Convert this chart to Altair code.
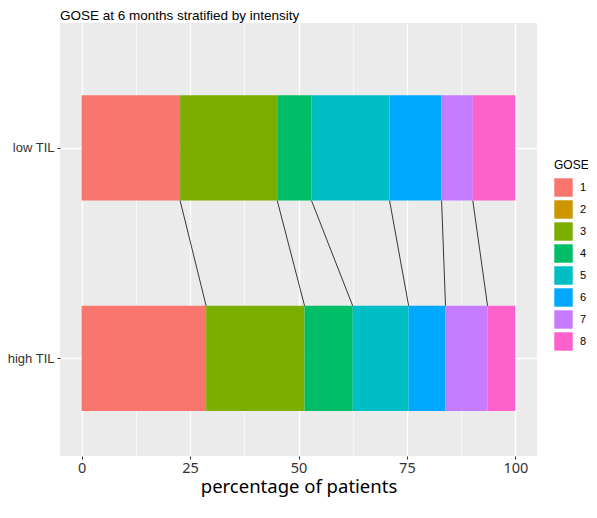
import json
import altair as alt
import pandas as pd

# ---- data ----
categories = ["low TIL", "high TIL"]
gose_levels = ["1", "2", "3", "4", "5", "6", "7", "8"]
low_til_pct = [22.7, 0.0, 22.4, 7.9, 18.0, 12.0, 7.2, 9.8]
high_til_pct = [28.7, 0.0, 22.7, 11.1, 12.9, 8.5, 9.7, 6.4]
gose_colors = ["#F8766D", "#CD9600", "#7CAE00", "#00BE67",
               "#00BFC4", "#00A9FF", "#C77CFF", "#FF61CC"]
x_ticks = [0, 12.5, 25, 37.5, 50, 62.5, 75, 87.5, 100]

HALF = 0.25  # half bar thickness in category units

rows = []
cum = {}
for ci, (cat, vals) in enumerate(zip(categories, [low_til_pct, high_til_pct])):
    start = 0.0
    bounds = []
    for g, v in zip(gose_levels, vals):
        rows.append(dict(group=cat, GOSE=g, pct=v, x0=start, x1=start + v,
                         ytop=ci + 1 - HALF, ybot=ci + 1 + HALF))
        start += v
        bounds.append(start)
    cum[cat] = bounds
bars = pd.DataFrame(rows)

links = pd.DataFrame({
    "GOSE": gose_levels[:-1],
    "x_low": [round(v, 6) for v in cum[categories[0]][:-1]],
    "x_high": [round(v, 6) for v in cum[categories[1]][:-1]],
    "y_low": [1 + HALF] * (len(gose_levels) - 1),
    "y_high": [2 - HALF] * (len(gose_levels) - 1),
}).drop_duplicates(subset=["x_low", "x_high"])

xscale = alt.Scale(domain=[-5, 105], nice=False, zero=False)
yscale = alt.Scale(domain=[0.4062, 2.4632], reverse=True, nice=False, zero=False)

label_expr_y = json.dumps(categories) + "[datum.value - 1]"

x_axis = alt.Axis(
    values=x_ticks,
    labelExpr="datum.value % 25 === 0 ? datum.label : ''",
    title="percentage of patients",
    grid=True,
    gridColor="white",
    gridWidth={"condition": {"test": "datum.value % 25 === 0", "value": 1.3}, "value": 0.6},
    tickOpacity={"condition": {"test": "datum.value % 25 === 0", "value": 1}, "value": 0},
    tickSize=3,
    tickColor="#333333",
    domain=False,
    labelFont="Noto Sans",
    labelFontSize=14.5,
    labelColor="#333333",
    labelPadding=2,
    titleFont="Noto Sans",
    titleFontSize=18.5,
    titleFontWeight="normal",
    titleColor="#000000",
    titlePadding=3,
)

y_axis = alt.Axis(
    values=[1, 2],
    labelExpr=label_expr_y,
    title=None,
    grid=True,
    gridColor="white",
    gridWidth=1.3,
    tickSize=3,
    tickColor="#333333",
    domain=False,
    labelFont="Liberation Sans",
    labelFontSize=13,
    labelColor="#333333",
    labelPadding=3,
)

rects = alt.Chart(bars).mark_rect().encode(
    x=alt.X("x0:Q", scale=xscale, axis=x_axis),
    x2="x1:Q",
    y=alt.Y("ytop:Q", scale=yscale, axis=y_axis),
    y2="ybot:Q",
    color=alt.Color(
        "GOSE:N",
        scale=alt.Scale(domain=gose_levels, range=gose_colors),
        legend=alt.Legend(
            title="GOSE",
            orient="none",
            legendX=494,
            legendY=137,
            symbolType="square",
            symbolSize=340,
            symbolStrokeWidth=0,
            symbolOpacity=1,
            rowPadding=3,
            labelOffset=7,
            labelFont="Liberation Sans",
            labelFontSize=11,
            labelColor="#000000",
            titleFont="Liberation Sans",
            titleFontSize=12,
            titleFontWeight="normal",
            titleColor="#000000",
            titlePadding=6,
        ),
    ),
    tooltip=["group:N", "GOSE:N", "pct:Q"],
)

segs = alt.Chart(links).mark_rule(color="#222222", strokeWidth=0.9).encode(
    x=alt.X("x_low:Q", scale=xscale),
    x2="x_high:Q",
    y=alt.Y("y_low:Q", scale=yscale),
    y2="y_high:Q",
)

chart = alt.layer(rects, segs).properties(
    width=477,
    height=433,
    title=alt.TitleParams(
        "GOSE at 6 months stratified by intensity",
        anchor="start",
        frame="group",
        font="Liberation Sans",
        fontSize=13.5,
        fontWeight="normal",
        color="#000000",
        offset=1,
    ),
    autosize=alt.AutoSizeParams(type="none"),
    padding={"left": 52, "top": 15, "right": 51, "bottom": 42},
).configure(
    background="white",
    view=alt.ViewConfig(fill="#EBEBEB", strokeWidth=0),
)

chart.save("out.html", embed_options={"renderer": "svg", "actions": False})
